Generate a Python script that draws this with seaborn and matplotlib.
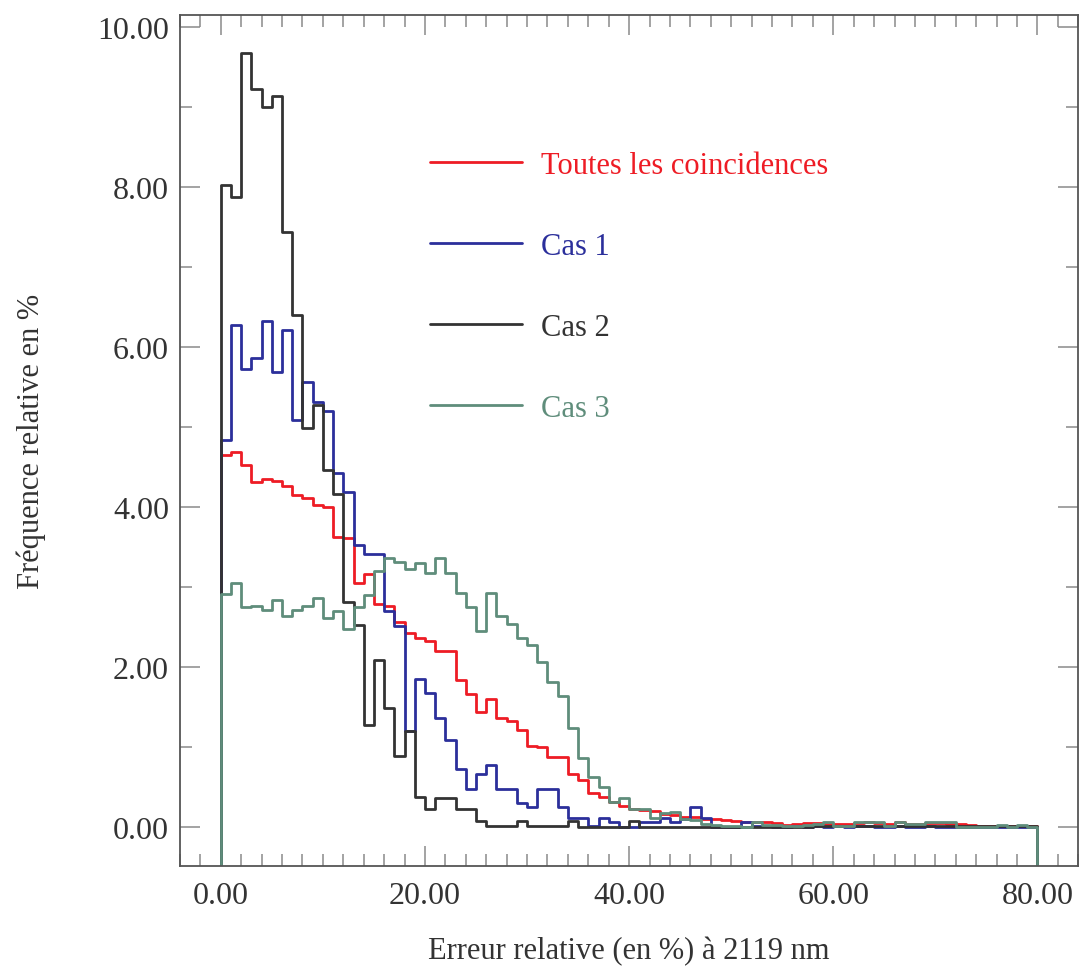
import numpy as np
import pandas as pd
import matplotlib
matplotlib.use("Agg")
import matplotlib.pyplot as plt
from matplotlib.ticker import MultipleLocator, FormatStrFormatter
import seaborn as sns

# Relative error bins (1 % wide, 0 to 80 %)
bin_edges = list(range(0, 81))

# Relative frequency (%) per bin
toutes = [4.65, 4.69, 4.53, 4.32, 4.35, 4.33, 4.27, 4.15, 4.12, 4.03,
          4.00, 3.63, 3.61, 3.05, 3.17, 2.79, 2.77, 2.57, 2.43, 2.36,
          2.33, 2.20, 2.20, 1.84, 1.66, 1.44, 1.60, 1.37, 1.33, 1.21,
          1.02, 1.00, 0.88, 0.88, 0.67, 0.59, 0.43, 0.38, 0.31, 0.27,
          0.23, 0.22, 0.20, 0.16, 0.15, 0.13, 0.13, 0.10, 0.10, 0.09,
          0.08, 0.07, 0.07, 0.06, 0.05, 0.03, 0.04, 0.05, 0.05, 0.04,
          0.04, 0.04, 0.05, 0.06, 0.05, 0.04, 0.06, 0.04, 0.04, 0.05,
          0.05, 0.04, 0.04, 0.03, 0.02, 0.02, 0.02, 0.01, 0.01, 0.01]

cas1 = [4.84, 6.28, 5.73, 5.86, 6.33, 5.69, 6.22, 5.09, 5.56, 5.32,
        5.20, 4.43, 4.19, 3.53, 3.41, 3.41, 2.70, 2.52, 1.20, 1.85,
        1.68, 1.37, 1.09, 0.73, 0.48, 0.66, 0.78, 0.48, 0.48, 0.30,
        0.25, 0.48, 0.48, 0.25, 0.12, 0.12, 0.01, 0.12, 0.07, 0.00,
        0.00, 0.06, 0.06, 0.12, 0.06, 0.10, 0.25, 0.12, 0.00, 0.00,
        0.00, 0.06, 0.01, 0.01, 0.00, 0.00, 0.01, 0.00, 0.01, 0.00,
        0.01, 0.00, 0.01, 0.01, 0.00, 0.00, 0.01, 0.00, 0.00, 0.01,
        0.00, 0.00, 0.00, 0.00, 0.00, 0.00, 0.00, 0.00, 0.00, 0.00]

cas2 = [8.03, 7.88, 9.67, 9.22, 9.00, 9.14, 7.44, 6.40, 4.99, 5.28,
        4.46, 4.16, 2.82, 2.53, 1.28, 2.09, 1.49, 0.89, 1.20, 0.38,
        0.23, 0.37, 0.37, 0.23, 0.23, 0.08, 0.01, 0.01, 0.01, 0.08,
        0.01, 0.01, 0.01, 0.01, 0.08, 0.00, 0.00, 0.00, 0.00, 0.00,
        0.08, 0.00, 0.00, 0.00, 0.00, 0.00, 0.00, 0.00, 0.00, 0.00,
        0.00, 0.00, 0.00, 0.00, 0.00, 0.00, 0.00, 0.00, 0.01, 0.01,
        0.01, 0.01, 0.01, 0.01, 0.01, 0.01, 0.01, 0.01, 0.01, 0.01,
        0.01, 0.01, 0.01, 0.01, 0.01, 0.01, 0.01, 0.01, 0.01, 0.01]

cas3 = [2.91, 3.05, 2.75, 2.76, 2.72, 2.84, 2.64, 2.72, 2.76, 2.87,
        2.62, 2.70, 2.48, 2.75, 2.90, 3.20, 3.37, 3.31, 3.23, 3.30,
        3.18, 3.37, 3.18, 2.93, 2.75, 2.45, 2.93, 2.64, 2.54, 2.37,
        2.28, 2.07, 1.82, 1.64, 1.24, 0.86, 0.63, 0.50, 0.31, 0.36,
        0.23, 0.23, 0.11, 0.18, 0.19, 0.10, 0.09, 0.04, 0.03, 0.02,
        0.01, 0.00, 0.06, 0.03, 0.03, 0.01, 0.01, 0.03, 0.04, 0.06,
        0.02, 0.02, 0.07, 0.07, 0.07, 0.02, 0.07, 0.045, 0.045, 0.06,
        0.06, 0.06, 0.00, 0.00, 0.00, 0.00, 0.03, 0.005, 0.03, 0.00]

series_labels = ["Toutes les coincidences", "Cas 1", "Cas 2", "Cas 3"]
series_values = [toutes, cas1, cas2, cas3]
series_colors = ["#ee1c25", "#2b2f9b", "#333333", "#5f8d7b"]

x_ticks = [0, 20, 40, 60, 80]
y_ticks = [0, 2, 4, 6, 8, 10]

sns.set_style("ticks")
plt.rcParams["font.family"] = ["Liberation Serif", "DejaVu Serif"]

fig = plt.figure(figsize=(10.79, 9.70), dpi=100)
ax = fig.add_axes([180 / 1079, 1 - 866.7 / 970, 898.3 / 1079, 850.7 / 970])

xlim = (-4, 84)
ylim = (-0.48, 10.15)

edges = np.array(bin_edges, dtype=float)
centers = (edges[:-1] + edges[1:]) / 2
bin_width = edges[1] - edges[0]

for label, vals, color in zip(series_labels, series_values, series_colors):
    df = pd.DataFrame({"erreur": centers, "freq": vals})
    sns.histplot(data=df, x="erreur", weights="freq",
                 binwidth=bin_width, binrange=(edges[0], edges[-1]),
                 element="step", fill=False, color=color, linewidth=2.0,
                 label=label, ax=ax)
    # histogram outer edges drop down to the bottom of the frame
    ax.vlines([edges[0], edges[-1]], ylim[0] - 1, [vals[0], vals[-1]],
              colors=color, linewidth=2.0)

ax.set_xlim(*xlim)
ax.set_ylim(*ylim)

ax.xaxis.set_minor_locator(MultipleLocator(2))
ax.yaxis.set_minor_locator(MultipleLocator(1))
ax.set_xticks(x_ticks)
ax.set_yticks(y_ticks)
ax.xaxis.set_major_formatter(FormatStrFormatter("%.2f"))
ax.yaxis.set_major_formatter(FormatStrFormatter("%.2f"))

ax.tick_params(which="both", direction="in", top=True, right=True,
               color="#8a8a8a", width=1.1, labelsize=23, labelcolor="#333333")
ax.tick_params(which="major", length=14.4)
ax.tick_params(which="minor", length=8.6)
ax.tick_params(axis="x", which="major", pad=11)
ax.tick_params(axis="y", which="major", pad=8)

for sp in ax.spines.values():
    sp.set_color("#555555")
    sp.set_linewidth(1.3)

ax.set_xlabel("Erreur relative (en %) à 2119 nm", fontsize=22,
              color="#333333", labelpad=19)
ax.set_ylabel("Fréquence relative en %", fontsize=22,
              color="#333333", labelpad=37)

leg = ax.legend(loc="upper left",
                bbox_to_anchor=((430 - 180) / 898.3, (866.7 - 152) / 850.7),
                frameon=False, fontsize=22, labelcolor="linecolor",
                handlelength=3.0, handletextpad=0.62, labelspacing=1.70,
                borderpad=0, borderaxespad=0)

fig.savefig("out.png", dpi=100)
